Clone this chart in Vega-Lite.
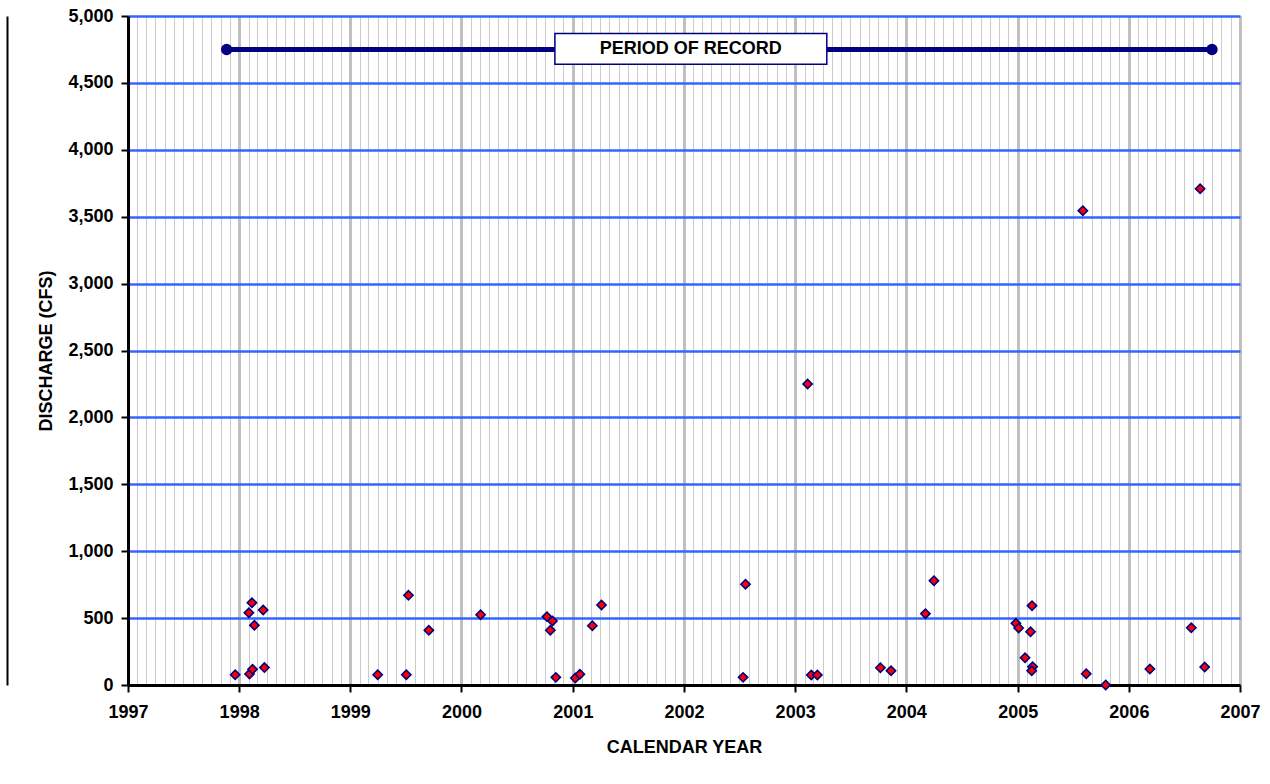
{
  "$schema": "https://vega.github.io/schema/vega-lite/v6.json",
  "autosize": "none",
  "width": 1112,
  "height": 669,
  "padding": {"left": 128, "top": 16, "right": 30, "bottom": 99},
  "background": "white",
  "config": {
    "view": {"stroke": null},
    "font": "Liberation Sans"
  },
  "datasets": {
    "samples": [
      {"date": "1997-12-19", "q": 77},
      {"date": "1998-02-02", "q": 540},
      {"date": "1998-02-12", "q": 615},
      {"date": "1998-02-20", "q": 446},
      {"date": "1998-03-21", "q": 560},
      {"date": "1998-02-04", "q": 82},
      {"date": "1998-02-14", "q": 117},
      {"date": "1998-03-25", "q": 130},
      {"date": "1999-04-01", "q": 77},
      {"date": "1999-07-04", "q": 77},
      {"date": "1999-07-11", "q": 670},
      {"date": "1999-09-16", "q": 409},
      {"date": "2000-03-04", "q": 525},
      {"date": "2000-10-08", "q": 511},
      {"date": "2000-10-26", "q": 478},
      {"date": "2000-10-19", "q": 409},
      {"date": "2000-11-06", "q": 57},
      {"date": "2001-01-09", "q": 52},
      {"date": "2001-01-24", "q": 80},
      {"date": "2001-03-06", "q": 443},
      {"date": "2001-04-05", "q": 598},
      {"date": "2002-07-22", "q": 753},
      {"date": "2002-07-14", "q": 57},
      {"date": "2003-02-11", "q": 2250},
      {"date": "2003-02-23", "q": 75},
      {"date": "2003-03-15", "q": 75},
      {"date": "2003-10-08", "q": 129},
      {"date": "2003-11-12", "q": 107},
      {"date": "2004-03-04", "q": 533},
      {"date": "2004-04-01", "q": 780},
      {"date": "2004-12-26", "q": 461},
      {"date": "2005-01-04", "q": 426},
      {"date": "2005-02-12", "q": 398},
      {"date": "2005-02-17", "q": 593},
      {"date": "2005-01-25", "q": 204},
      {"date": "2005-02-19", "q": 137},
      {"date": "2005-02-16", "q": 107},
      {"date": "2005-08-03", "q": 3545},
      {"date": "2005-08-14", "q": 84},
      {"date": "2005-10-17", "q": 0},
      {"date": "2006-03-11", "q": 120},
      {"date": "2006-07-25", "q": 428},
      {"date": "2006-08-23", "q": 3709},
      {"date": "2006-09-07", "q": 134}
    ],
    "period": [
      {"date": "1997-11-21", "q": 4750},
      {"date": "2006-10-01", "q": 4750}
    ],
    "label": [
      {"label": "PERIOD OF RECORD"}
    ]
  },
  "layer": [
    {
      "data": {"name": "period"},
      "mark": {"type": "line", "color": "#000080", "strokeWidth": 5},
      "encoding": {
        "x": {
          "field": "date", "type": "temporal",
          "scale": {"type": "utc", "domain": [{"year": 1997, "month": 1, "date": 1, "utc": true}, {"year": 2007, "month": 1, "date": 1, "utc": true}]},
          "axis": {"orient": "bottom", "tickCount": {"interval": "month", "step": 1}, "grid": true, "gridColor": "#cccccc", "gridWidth": 1, "labels": false, "ticks": false, "domain": false, "title": null}
        },
        "y": {
          "field": "q", "type": "quantitative",
          "scale": {"domain": [0, 5000], "nice": false, "zero": true},
          "axis": {"orient": "left", "offset": 121, "grid": false, "labels": false, "ticks": false, "domain": true, "domainColor": "#000000", "domainWidth": 2, "title": null}
        }
      }
    },
    {
      "data": {"name": "period"},
      "mark": {"type": "point", "shape": "circle", "filled": true, "color": "#000080", "size": 130, "opacity": 1},
      "encoding": {
        "x": {"field": "date", "type": "temporal", "axis": null},
        "y": {"field": "q", "type": "quantitative", "axis": null}
      }
    },
    {
      "data": {"name": "label"},
      "mark": {"type": "rect", "fill": "#ffffff", "stroke": "#000080", "strokeWidth": 1.5},
      "encoding": {
        "x": {"datum": {"year": 2000, "month": 11, "date": 3, "utc": true}, "type": "temporal", "axis": null},
        "x2": {"datum": {"year": 2003, "month": 4, "date": 15, "utc": true}},
        "y": {"datum": 4640, "type": "quantitative", "axis": null},
        "y2": {"datum": 4870}
      }
    },
    {
      "data": {"name": "label"},
      "mark": {"type": "text", "font": "Liberation Sans", "fontWeight": "bold", "fontSize": 18, "color": "#000000", "align": "center", "baseline": "middle"},
      "encoding": {
        "text": {"field": "label", "type": "nominal"},
        "x": {"datum": {"year": 2002, "month": 1, "date": 23, "utc": true}, "type": "temporal", "axis": null},
        "y": {"datum": 4755, "type": "quantitative", "axis": null}
      }
    },
    {
      "data": {"name": "samples"},
      "mark": {"type": "point", "shape": "diamond", "filled": true, "fill": "#ff0000", "stroke": "#000080", "strokeWidth": 1.6, "size": 85, "opacity": 1},
      "encoding": {
        "x": {
          "field": "date", "type": "temporal",
          "axis": {"orient": "bottom", "format": "%Y", "tickCount": {"interval": "year", "step": 1}, "grid": true, "gridColor": "#c0c0c0", "gridWidth": 3,
                   "domainColor": "#000000", "domainWidth": 3, "tickColor": "#000000", "tickWidth": 2, "tickSize": 7,
                   "labelFont": "Liberation Sans", "labelFontSize": 18, "labelFontWeight": "bold", "labelColor": "#000000", "labelPadding": 11, "labelFlush": false, "labelOverlap": false,
                   "title": "CALENDAR YEAR", "titleFont": "Liberation Sans", "titleFontSize": 18, "titleFontWeight": "bold", "titleColor": "#000000", "titlePadding": 17}
        },
        "y": {
          "field": "q", "type": "quantitative",
          "axis": {"orient": "left", "values": [0, 500, 1000, 1500, 2000, 2500, 3000, 3500, 4000, 4500, 5000], "format": ",.0f", "grid": true, "gridColor": "#3366ff", "gridWidth": 2.5,
                   "domainColor": "#000000", "domainWidth": 3, "tickColor": "#000000", "tickWidth": 2, "tickSize": 7,
                   "labelFont": "Liberation Sans", "labelFontSize": 18, "labelFontWeight": "bold", "labelColor": "#000000", "labelPadding": 8, "labelOverlap": false,
                   "title": "DISCHARGE (CFS)", "titleFont": "Liberation Sans", "titleFontSize": 18, "titleFontWeight": "bold", "titleColor": "#000000", "titlePadding": 12}
        }
      }
    }
  ],
  "resolve": {"axis": {"x": "independent", "y": "independent"}}
}
